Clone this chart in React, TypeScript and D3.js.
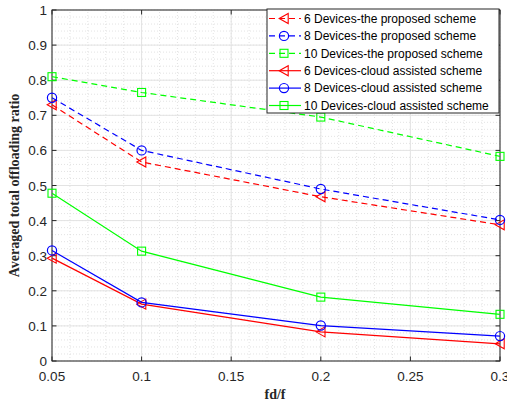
import React from "react";
import * as d3 from "d3";

const ratios = [0.05, 0.1, 0.2, 0.3];
const xTicks = [0.05, 0.1, 0.15, 0.2, 0.25, 0.3];
const yTicks = [0, 0.1, 0.2, 0.3, 0.4, 0.5, 0.6, 0.7, 0.8, 0.9, 1];

const proposed6 = [0.73, 0.567, 0.468, 0.388];
const proposed8 = [0.75, 0.6, 0.49, 0.402];
const proposed10 = [0.81, 0.765, 0.695, 0.583];
const cloud6 = [0.293, 0.162, 0.083, 0.049];
const cloud8 = [0.315, 0.167, 0.101, 0.071];
const cloud10 = [0.478, 0.313, 0.182, 0.133];

const seriesNames = [
  "6 Devices-the proposed scheme",
  "8 Devices-the proposed scheme",
  "10 Devices-the proposed scheme",
  "6 Devices-cloud assisted scheme",
  "8 Devices-cloud assisted scheme",
  "10 Devices-cloud assisted scheme",
];

type Marker = "tri" | "circle" | "square";
const series = [
  { name: seriesNames[0], values: proposed6, color: "#ff0000", marker: "tri" as Marker, dashed: true },
  { name: seriesNames[1], values: proposed8, color: "#0000ff", marker: "circle" as Marker, dashed: true },
  { name: seriesNames[2], values: proposed10, color: "#00ff00", marker: "square" as Marker, dashed: true },
  { name: seriesNames[3], values: cloud6, color: "#ff0000", marker: "tri" as Marker, dashed: false },
  { name: seriesNames[4], values: cloud8, color: "#0000ff", marker: "circle" as Marker, dashed: false },
  { name: seriesNames[5], values: cloud10, color: "#00ff00", marker: "square" as Marker, dashed: false },
];

const W = 507;
const H = 407;
const M = { left: 52, right: 7, top: 10, bottom: 46 };

function MarkerShape({ kind, cx, cy, color }: { kind: Marker; cx: number; cy: number; color: string }) {
  if (kind === "circle") {
    return <circle cx={cx} cy={cy} r={4.6} fill="none" stroke={color} strokeWidth={1.2} />;
  }
  if (kind === "square") {
    return <rect x={cx - 4} y={cy - 4} width={8} height={8} fill="none" stroke={color} strokeWidth={1.1} />;
  }
  const pts = [
    [cx - 4.8, cy],
    [cx + 4.2, cy - 5],
    [cx + 4.2, cy + 5],
  ];
  return <polygon points={pts.map((p) => p.join(",")).join(" ")} fill="none" stroke={color} strokeWidth={1.1} />;
}

export default function App() {
  const x = d3.scaleLinear().domain([0.05, 0.3]).range([M.left, W - M.right]);
  const y = d3.scaleLinear().domain([0, 1]).range([H - M.bottom, M.top]);
  const line = d3
    .line<number>()
    .x((_, i) => x(ratios[i]))
    .y((d) => y(d));

  const x0 = M.left;
  const x1 = W - M.right;
  const y0 = H - M.bottom;
  const y1 = M.top;

  const minorX = d3.range(0.05, 0.3001, 0.01);
  const minorY = d3.range(0, 1.0001, 0.02);

  const tickFont = "'Liberation Sans', Arial, Helvetica, sans-serif";
  const labelFont = "'Liberation Serif', 'Times New Roman', serif";

  const lx = 267;
  const ly = 9;
  const lw = 232;
  const lh = 104;
  const rowH = 17.4;

  return (
    <svg width={W} height={H} style={{ position: "absolute", left: 0, top: 0, background: "#fff" }}>
      <rect x={0} y={0} width={W} height={H} fill="#fff" />
      {/* minor grid */}
      <g stroke="#d0d0d0" strokeWidth={0.6} strokeDasharray="1,2">
        {minorX.map((v, i) => (
          <line key={"mx" + i} x1={x(v)} x2={x(v)} y1={y0} y2={y1} />
        ))}
        {minorY.map((v, i) => (
          <line key={"my" + i} x1={x0} x2={x1} y1={y(v)} y2={y(v)} />
        ))}
      </g>
      {/* major grid */}
      <g stroke="#e3e3e3" strokeWidth={1}>
        {xTicks.map((v) => (
          <line key={"gx" + v} x1={x(v)} x2={x(v)} y1={y0} y2={y1} />
        ))}
        {yTicks.map((v) => (
          <line key={"gy" + v} x1={x0} x2={x1} y1={y(v)} y2={y(v)} />
        ))}
      </g>
      {/* frame and ticks */}
      <g stroke="#262626" strokeWidth={1} fill="none">
        <rect x={x0} y={y1} width={x1 - x0} height={y0 - y1} />
        {xTicks.map((v) => (
          <g key={"tx" + v}>
            <line x1={x(v)} x2={x(v)} y1={y0} y2={y0 - 4.5} />
            <line x1={x(v)} x2={x(v)} y1={y1} y2={y1 + 4.5} />
          </g>
        ))}
        {yTicks.map((v) => (
          <g key={"ty" + v}>
            <line x1={x0} x2={x0 + 4.5} y1={y(v)} y2={y(v)} />
            <line x1={x1} x2={x1 - 4.5} y1={y(v)} y2={y(v)} />
          </g>
        ))}
      </g>
      <g fontFamily={tickFont} fontSize={13.5} fill="#262626">
        {xTicks.map((v) => (
          <text key={"lx" + v} x={x(v)} y={y0 + 20} textAnchor="middle">
            {String(v)}
          </text>
        ))}
        {yTicks.map((v) => (
          <text key={"ly" + v} x={x0 - 5} y={y(v) + 5} textAnchor="end">
            {String(v)}
          </text>
        ))}
      </g>
      {/* series */}
      {series.map((s) => (
        <g key={s.name}>
          <path
            d={line(s.values) || ""}
            fill="none"
            stroke={s.color}
            strokeWidth={1.2}
            strokeDasharray={s.dashed ? "6,4" : undefined}
          />
          {s.values.map((v, i) => (
            <MarkerShape key={i} kind={s.marker} cx={x(ratios[i])} cy={y(v)} color={s.color} />
          ))}
        </g>
      ))}
      {/* axis titles */}
      <text
        x={275}
        y={399}
        textAnchor="middle"
        fontFamily={labelFont}
        fontWeight="bold"
        fontSize={14}
        fill="#262626"
      >
        fd/f
      </text>
      <text
        transform={`translate(19,${(y0 + y1) / 2}) rotate(-90)`}
        textAnchor="middle"
        fontFamily={labelFont}
        fontWeight="bold"
        fontSize={14}
        fill="#262626"
      >
        Averaged total offloading ratio
      </text>
      {/* legend */}
      <g>
        <rect x={lx} y={ly} width={lw} height={lh} fill="#fff" stroke="#262626" strokeWidth={1} />
        {series.map((s, i) => {
          const cy = ly + 9.5 + i * rowH;
          return (
            <g key={"lg" + i}>
              <line
                x1={lx + 2}
                x2={lx + 34}
                y1={cy}
                y2={cy}
                stroke={s.color}
                strokeWidth={1.2}
                strokeDasharray={s.dashed ? "6,4" : undefined}
              />
              <MarkerShape kind={s.marker} cx={lx + 17} cy={cy} color={s.color} />
              <text x={lx + 37} y={cy + 4.2} fontFamily={tickFont} fontSize={12} fill="#000">
                {s.name}
              </text>
            </g>
          );
        })}
      </g>
    </svg>
  );
}
